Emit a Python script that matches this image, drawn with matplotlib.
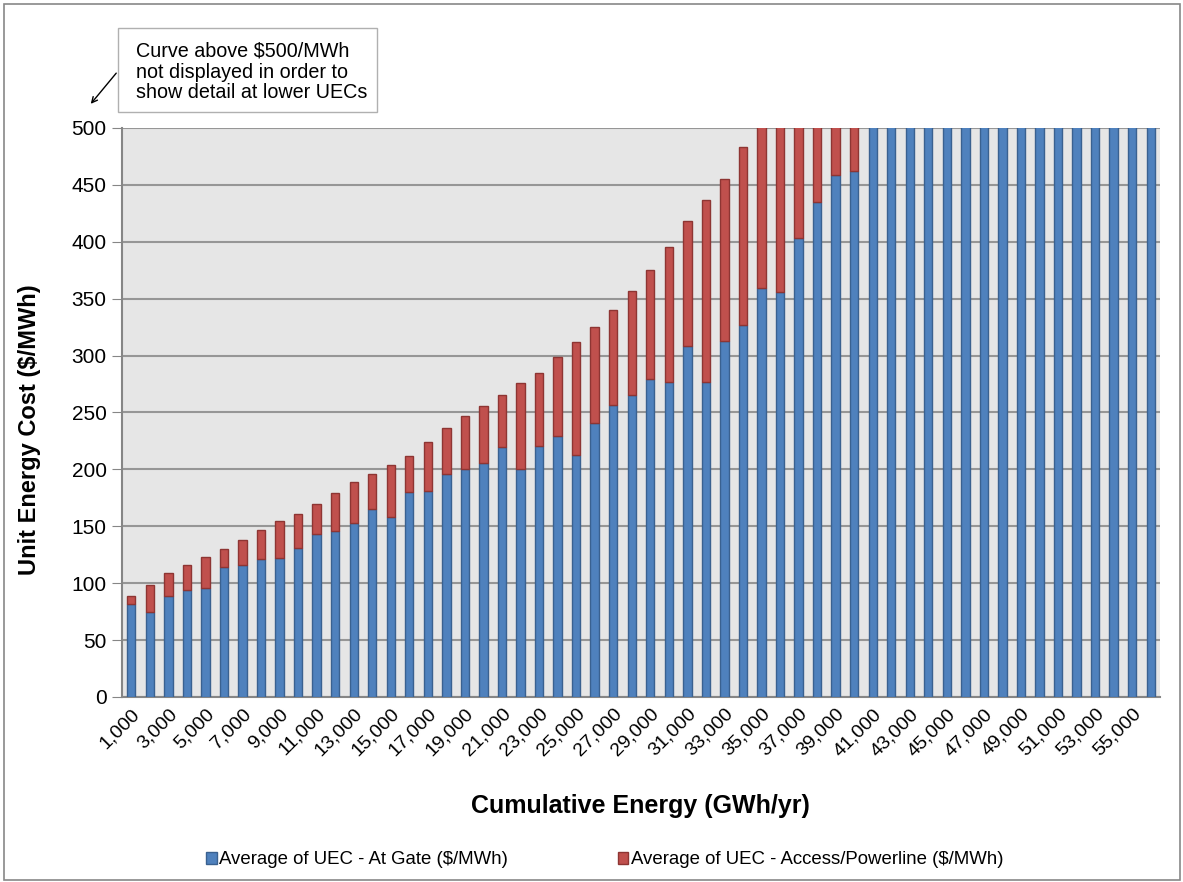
import matplotlib.pyplot as plt
import numpy as np
from matplotlib.patches import Rectangle

plt.rcParams['font.family'] = ['Liberation Sans', 'DejaVu Sans']

# cumulative energy categories (GWh/yr)
energy = list(range(1000, 57000, 1000))

# UEC at gate ($/MWh), bars 41+ run off the top of the chart
at_gate = [82, 75, 89, 94, 96, 114, 116, 121, 122, 131,
           143, 146, 153, 165, 158, 180, 181, 196, 200, 206,
           220, 200, 221, 229, 213, 241, 257, 265, 279, 277,
           308, 277, 313, 327, 359, 356, 403, 435, 459, 462,
           520, 535, 550, 570, 590, 610, 630, 655, 680, 705,
           730, 760, 790, 830, 870, 920]

# UEC access / powerline adder ($/MWh)
access = [7, 23, 20, 22, 27, 16, 22, 26, 33, 30,
          27, 33, 36, 31, 46, 32, 43, 40, 47, 50,
          45, 76, 64, 70, 99, 84, 83, 92, 96, 118,
          110, 160, 142, 156, 160, 185, 130, 95, 70, 75,
          60, 60, 60, 60, 60, 60, 60, 60, 60, 60,
          60, 60, 60, 60, 60, 60]

tick_labels = [f"{e:,}" for e in energy]

fig = plt.figure(figsize=(11.83, 8.82), dpi=100)
ax = fig.add_axes([122/1183, 1 - 697/882, (1160-122)/1183, (697-128)/882])

x = np.arange(len(energy))
ax.bar(x, at_gate, width=0.45, color='#4F81BD', edgecolor='#3A6190', linewidth=1,
       label='Average of UEC - At Gate ($/MWh)', zorder=3)
ax.bar(x, access, width=0.45, bottom=at_gate, color='#C0504D', edgecolor='#8E3533',
       linewidth=1, label='Average of UEC - Access/Powerline ($/MWh)', zorder=3)

ax.set_facecolor('#E6E6E6')
ax.set_ylim(0, 500)
ax.set_xlim(-0.5, len(energy) - 0.5)
ax.set_yticks(range(0, 501, 50))
ax.yaxis.grid(True, color='#969696', linewidth=1.5, zorder=0)
ax.tick_params(axis='y', labelsize=15, length=7, color='#868686', pad=4)

ax.set_xticks(x[::2])
ax.set_xticklabels(tick_labels[::2], rotation=45, ha='right', rotation_mode='anchor',
                   fontsize=14)
ax.tick_params(axis='x', length=0, pad=6)

for s in ['top', 'right']:
    ax.spines[s].set_visible(False)
ax.spines['left'].set_color('#868686')
ax.spines['bottom'].set_color('#868686')
ax.spines['left'].set_linewidth(1.5)
ax.spines['bottom'].set_linewidth(1.5)

fig.text(30/1183, 1 - 430/882, 'Unit Energy Cost ($/MWh)', fontsize=17,
         fontweight='bold', rotation=90, ha='center', va='center')
fig.text(640/1183, 1 - 806/882, 'Cumulative Energy (GWh/yr)', fontsize=18,
         fontweight='bold', ha='center', va='center')

fig.legend(loc='center', bbox_to_anchor=(605/1183, 1 - 860/882), ncol=2, frameon=False,
           fontsize=13.4, handlelength=0.55, handleheight=0.55, handletextpad=0.15,
           columnspacing=5.9)

# note box with arrow
fig.patches.append(Rectangle((118/1183, 1 - 112/882), (377-118)/1183, (112-28)/882,
                             transform=fig.transFigure, facecolor='white',
                             edgecolor='#B0B0B0', linewidth=1))
fig.text(136/1183, 1 - 72/882,
         'Curve above $500/MWh\nnot displayed in order to\nshow detail at lower UECs',
         fontsize=14.2, ha='left', va='center', linespacing=1.1)
ax.annotate('', xy=(89, 882 - 106), xycoords='figure pixels',
            xytext=(118, 882 - 71), textcoords='figure pixels',
            arrowprops=dict(arrowstyle='->', color='black', lw=1))

# outer chart border
fig.patches.append(Rectangle((4/1183, 2/882), 1176/1183, 876/882,
                             transform=fig.transFigure, fill=False,
                             edgecolor='#888888', linewidth=1.2))

fig.savefig('out.png', dpi=100)
